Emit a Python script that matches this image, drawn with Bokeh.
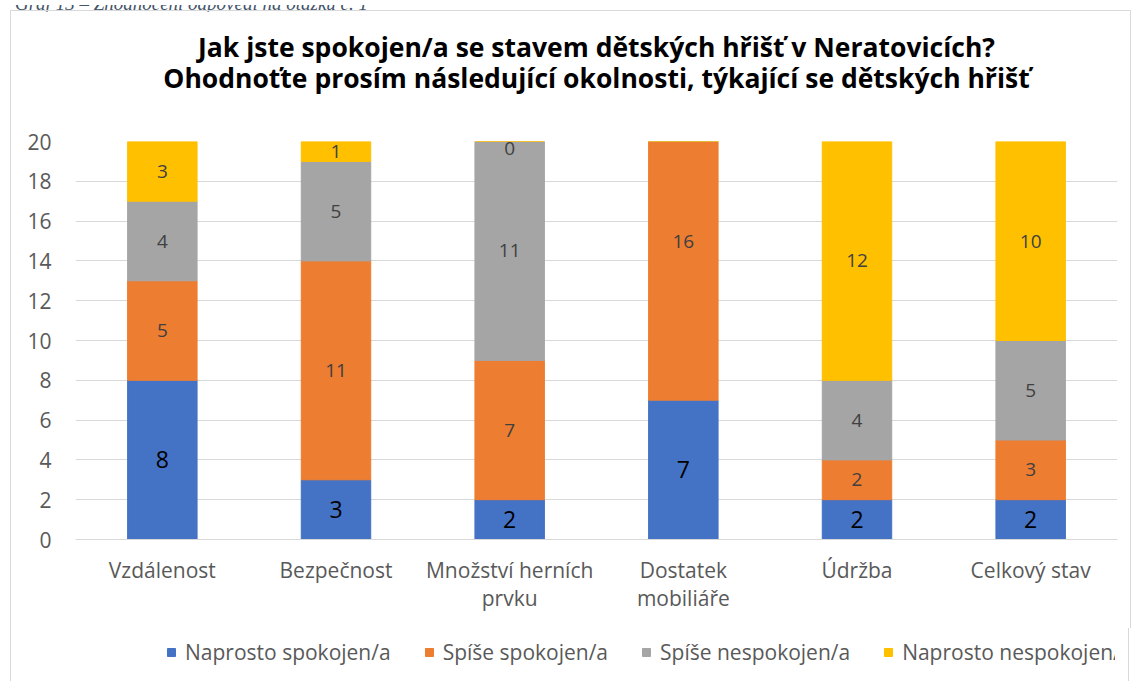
from bokeh.plotting import figure
from bokeh.models import (ColumnDataSource, FactorRange, Range1d, Legend, LegendItem,
                          Title, Div)
from bokeh.layouts import column
from bokeh.core.properties import value
from bokeh.embed import file_html
from bokeh.resources import INLINE

caption = "Graf 13 – Zhodnocení odpovědí na otázku č. 1"
categories = ["Vzdálenost", "Bezpečnost", "Množství herních\nprvku", "Dostatek\nmobiliáře", "Údržba", "Celkový stav"]
naprosto_spokojen = [8, 3, 2, 7, 2, 2]
spise_spokojen = [5, 11, 7, 16, 2, 3]
spise_nespokojen = [4, 5, 11, 0, 4, 5]
naprosto_nespokojen = [3, 1, 0, 0, 12, 10]
series_names = ["Naprosto spokojen/a", "Spíše spokojen/a", "Spíše nespokojen/a", "Naprosto nespokojen/a"]
series_colors = ["#4472C4", "#ED7D31", "#A5A5A5", "#FFC000"]
y_ticks = [0, 2, 4, 6, 8, 10, 12, 14, 16, 18, 20]
title_lines = ["Jak jste spokojen/a se stavem dětských hřišť v Neratovicích?",
               "Ohodnoťte prosím následující okolnosti, týkající se dětských hřišť"]

FONT = "Open Sans"
Y_MAX = 20
BORDER = "1px solid #D9D9D9"

keys = ["s0", "s1", "s2", "s3"]
series = [naprosto_spokojen, spise_spokojen, spise_nespokojen, naprosto_nespokojen]
data = {"cat": categories}
for k, s in zip(keys, series):
    data[k] = s
source = ColumnDataSource(data)

p = figure(x_range=FactorRange(*categories, range_padding=0), y_range=Range1d(0, Y_MAX),
           frame_width=1040, frame_height=397, output_backend="svg", toolbar_location=None,
           min_border_left=64, min_border_right=15, min_border_top=130, min_border_bottom=90,
           title=None)
p.styles = {"border-top": BORDER, "border-left": BORDER, "border-right": BORDER,
            "margin-left": "10px", "margin-top": "-10px"}
p.outline_line_color = None

p.vbar_stack(keys, x="cat", width=0.4, color=series_colors, source=source)

# data labels
lab_blue = {"cat": [], "y": [], "t": []}
lab_other = {"cat": [], "y": [], "t": []}
for i, c in enumerate(categories):
    base = 0
    for j, s in enumerate(series):
        v = s[i]
        mid = min(base + v / 2, Y_MAX - 0.35)
        if base + v / 2 <= Y_MAX:
            d = lab_blue if j == 0 else lab_other
            d["cat"].append(c)
            d["y"].append(mid)
            d["t"].append(str(v))
        base += v

p.text(x="cat", y="y", text="t", source=ColumnDataSource(lab_blue),
       text_align="center", text_baseline="middle", text_font=value(FONT),
       text_font_size="23px", text_color="#000000")
p.text(x="cat", y="y", text="t", source=ColumnDataSource(lab_other),
       text_align="center", text_baseline="middle", text_font=value(FONT),
       text_font_size="19px", text_color="#404040")

# spacer between title and plot (first added sits closest to the plot), then the title lines
p.add_layout(Title(text=" ", text_font_size="2px", standoff=42), "above")
p.add_layout(Title(text=title_lines[1], align="center", standoff=0,
                   text_font=FONT, text_font_style="bold", text_font_size="26.5px",
                   text_line_height=0.82, text_color="#000000"), "above")
p.add_layout(Title(text=title_lines[0], align="center", standoff=-14,
                   text_font=FONT, text_font_style="bold", text_font_size="26.5px",
                   text_line_height=0.82, text_color="#000000"), "above")

# axes
p.yaxis.ticker = y_ticks
p.yaxis.axis_line_color = None
p.yaxis.major_tick_line_color = None
p.yaxis.minor_tick_line_color = None
p.yaxis.major_label_standoff = 18
p.yaxis.major_label_text_font = FONT
p.yaxis.major_label_text_font_size = "21px"
p.yaxis.major_label_text_color = "#595959"

p.xaxis.axis_line_color = "#D9D9D9"
p.xaxis.major_tick_line_color = None
p.xaxis.minor_tick_line_color = None
p.xaxis.major_label_standoff = 10
p.xaxis.major_label_text_font = FONT
p.xaxis.major_label_text_font_size = "21px"
p.xaxis.major_label_text_color = "#595959"
p.xaxis.major_label_text_line_height = 1.0

p.xgrid.grid_line_color = None
p.ygrid.ticker = y_ticks
p.ygrid.grid_line_color = "#D9D9D9"

# legend strip below the chart (same series, swatches only; bars lie outside its range)
lg = figure(x_range=FactorRange(*categories, range_padding=0), y_range=Range1d(100, 101),
            width=1119, height=60, output_backend="svg", toolbar_location=None,
            x_axis_location=None, y_axis_location=None,
            min_border_left=0, min_border_right=0, min_border_top=0, min_border_bottom=0,
            title=None)
lg.styles = {"border-left": BORDER, "border-right": BORDER, "margin-left": "10px"}
lg.outline_line_color = None
lg.grid.visible = False
lg_renderers = lg.vbar_stack(keys, x="cat", width=0.4, color=series_colors, source=source)

legend = Legend(items=[LegendItem(label=n, renderers=[r]) for n, r in zip(series_names, lg_renderers)],
                orientation="horizontal", location=(91, 22), glyph_width=10, glyph_height=10,
                label_text_font=FONT, label_text_font_size="21px", label_text_color="#595959",
                spacing=33, label_standoff=9, border_line_color=None, background_fill_alpha=0,
                padding=0, margin=0)
lg.add_layout(legend, "center")

cap = Div(text=('<div style="position:relative; top:-10px; left:10px; white-space:nowrap; '
                'font-family:\'Liberation Serif\'; font-style:italic; font-size:19px; '
                'line-height:18px; color:#44546A">' + caption + '</div>'),
          width=1131, height=10, styles={"overflow": "hidden"})

layout = column(cap, p, lg, spacing=0)
open("out.html", "w").write(file_html(layout, INLINE))
